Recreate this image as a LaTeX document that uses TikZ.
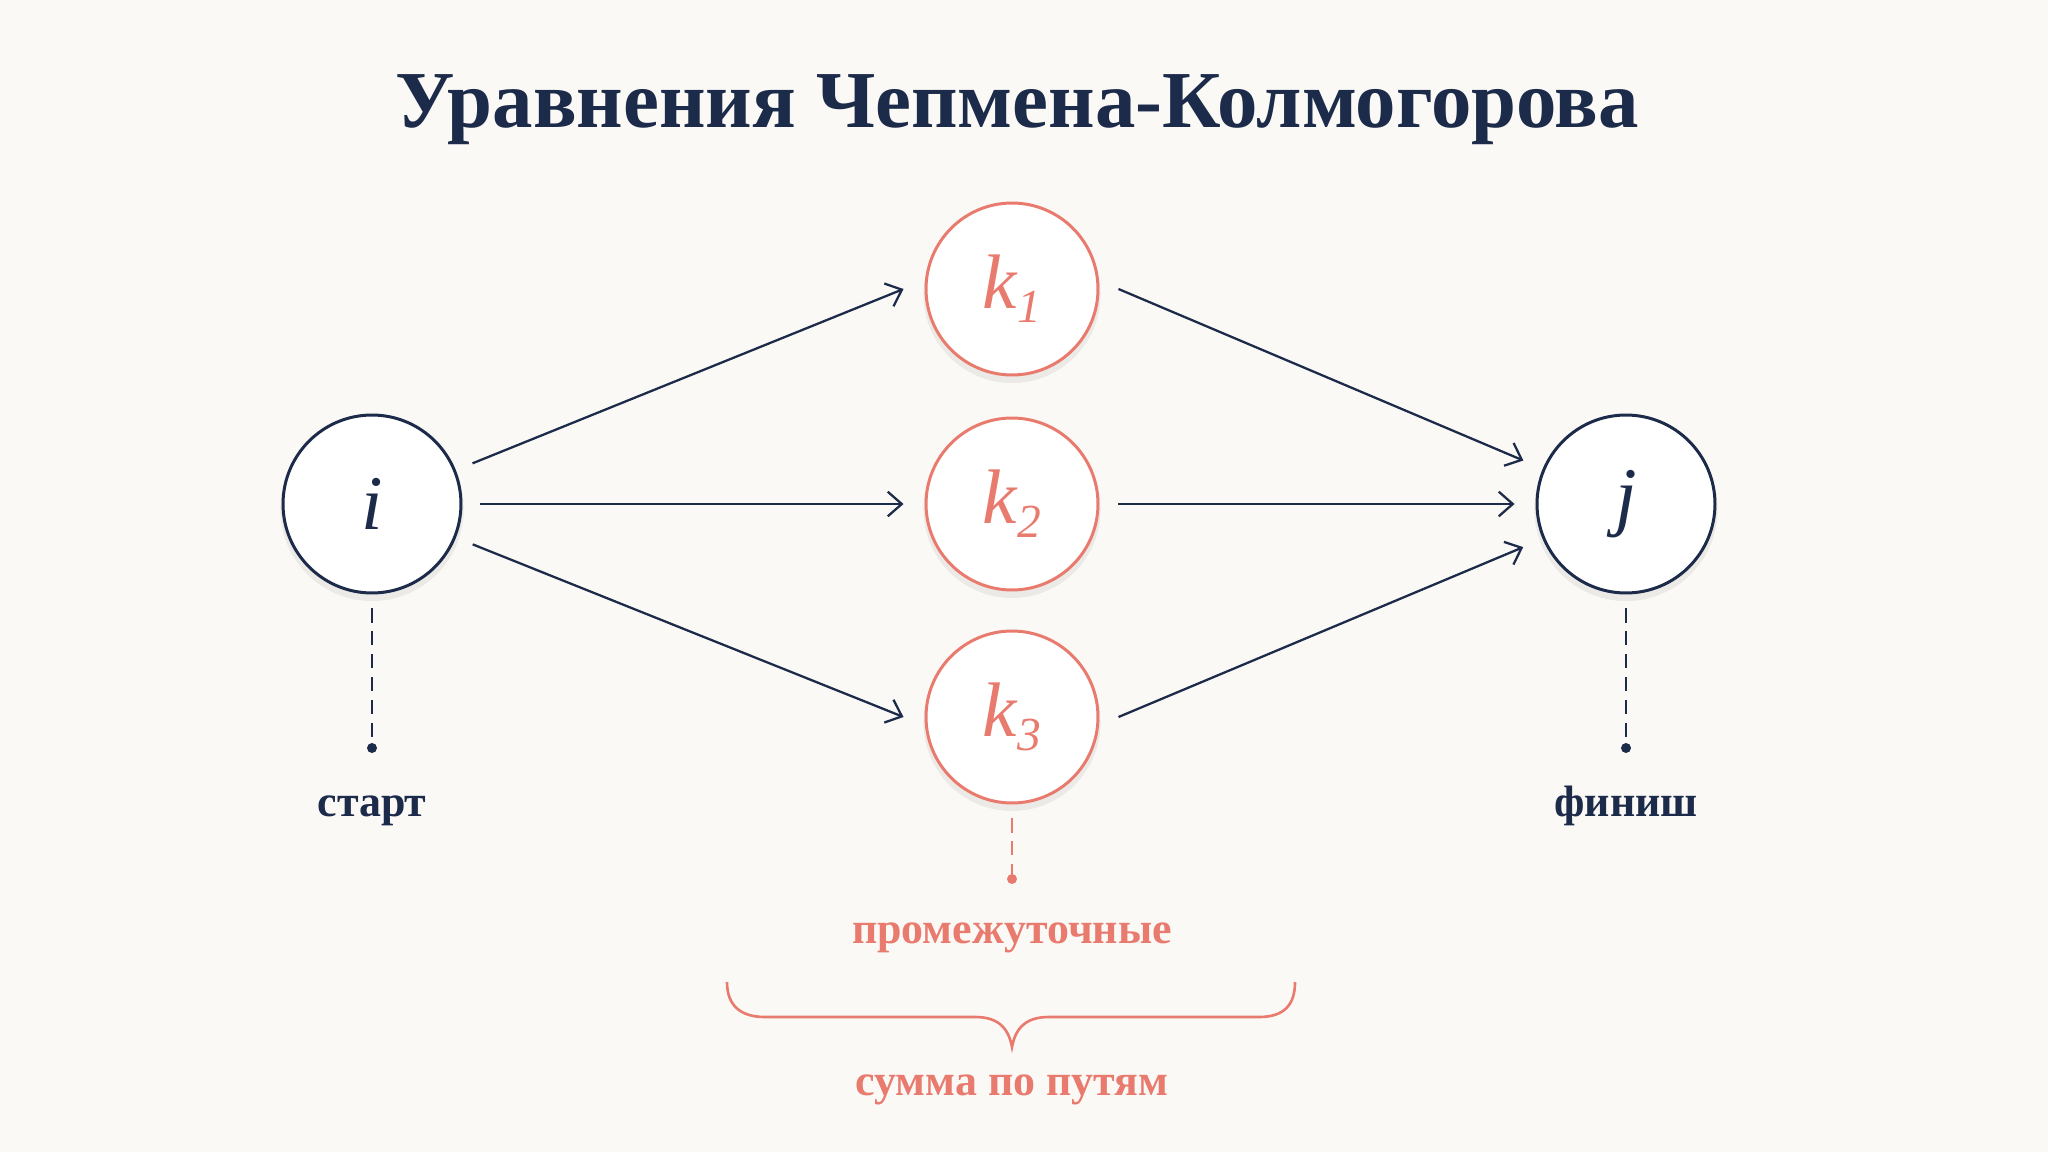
\documentclass[tikz,border=0pt]{standalone}
\usepackage{fontspec}
\setmainfont{Liberation Serif}
\usepackage{tikz}
\usetikzlibrary{arrows.meta,positioning,calc,shadows}
\definecolor{navy}{HTML}{1C2B4A}
\definecolor{coral}{HTML}{E97B6E}
\definecolor{paper}{HTML}{FBF9F6}
\newcommand{\idx}[2]{\textit{#1}\raisebox{-8pt}{\fontsize{27}{30}\selectfont\itshape #2}}
\tikzstyle{state}=[draw=navy,fill=white,circle,line width=1.7pt,minimum size=3.56cm,inner sep=0pt,text=navy,font=\fontsize{44}{50}\selectfont\itshape,drop shadow={shadow xshift=0pt,shadow yshift=-3pt,shadow scale=1.03,opacity=0.06,fill=black}]
\tikzstyle{mid}=[state,draw=coral,text=coral,minimum size=3.44cm]
\tikzstyle{flow}=[draw=navy,line width=1.3pt,-{Straight Barb[length=8pt,width=14pt]}]
\tikzstyle{lead}=[line width=1.2pt,dash pattern=on 8pt off 5pt]
\tikzstyle{tag}=[anchor=base,font=\fontsize{25}{29}\selectfont\bfseries]

\begin{document}
\begin{tikzpicture}[x=0.02cm,y=-0.02cm]
\fill[paper] (0,0) rectangle (2048,1152);
\useasboundingbox (0,0) rectangle (2048,1152);

\node [anchor=base,text=navy,font=\fontsize{46}{54}\selectfont\bfseries] (title) at (1017,128) {Уравнения Чепмена-Колмогорова};

% states
\node [state] (i) at (372,504) {i};
\node [state] (j) at (1626,504) {j};
\node [mid] (k1) at (1012,289) {\idx{k}{1}};
\node [mid] (k2) at (1012,504) {\idx{k}{2}};
\node [mid] (k3) at (1012,717) {\idx{k}{3}};

\foreach \k in {k1,k2,k3} {
  \draw [flow,shorten <=0.36cm] (i) -- ($(\k.west)+(-21,0)$);
  \draw [flow,shorten >=0.42cm] ($(\k.east)+(19,0)$) -- (j);
}

% leaders
\coordinate (idot) at (372,748);
\coordinate (jdot) at (1626,748);
\coordinate (kdot) at (1012,879);
\draw [lead,navy] ($(i.south)+(0,14)$) -- (idot);
\draw [lead,navy] ($(j.south)+(0,14)$) -- (jdot);
\draw [lead,coral] ($(k3.south)+(0,14)$) -- (kdot);
\fill [navy] (idot) circle (0.1cm);
\fill [navy] (jdot) circle (0.1cm);
\fill [coral] (kdot) circle (0.1cm);

\node [tag,text=navy] (start) at (372,816) {старт};
\node [tag,text=navy] (finish) at (1626,816) {финиш};
\node [tag,text=coral] (inter) at (1012,943) {промежуточные};

% brace
\draw [coral,line width=1.5pt] (727,982) .. controls (727,1005) and (740,1017) .. (765,1017) -- (975,1017)
  .. controls (995,1017) and (1008,1025) .. (1012,1047)
  .. controls (1016,1025) and (1029,1017) .. (1049,1017) -- (1259,1017)
  .. controls (1284,1017) and (1295,1005) .. (1295,982);
\node [tag,text=coral] (sum) at (1012,1095) {сумма по путям};
\end{tikzpicture}
\end{document}
